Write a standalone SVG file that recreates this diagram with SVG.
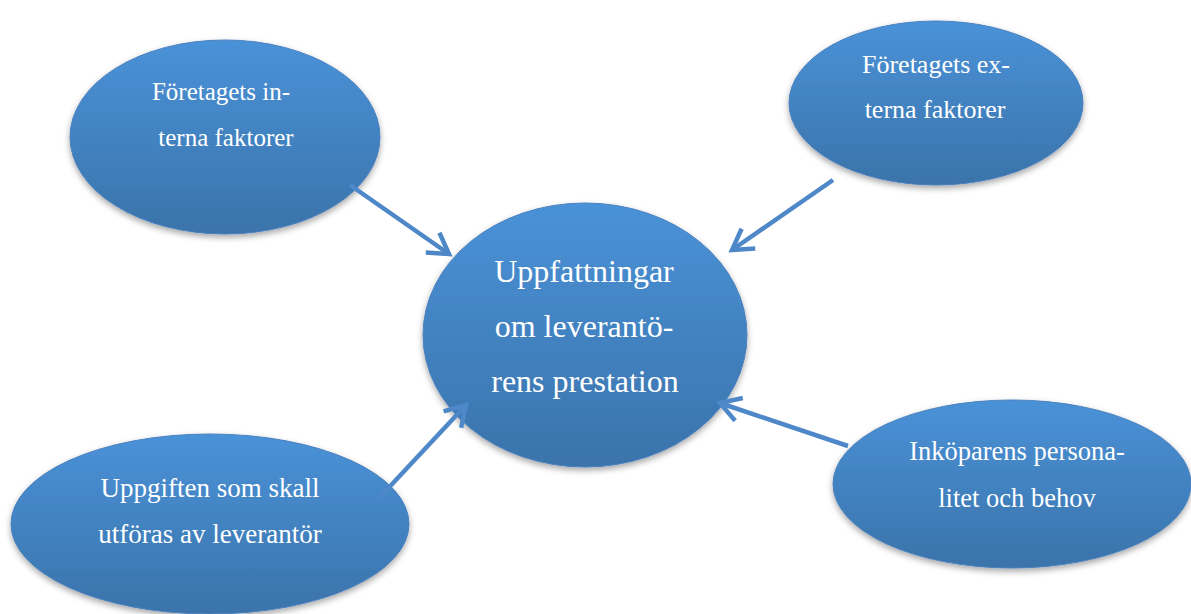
<svg xmlns="http://www.w3.org/2000/svg" width="1191" height="614" viewBox="0 0 1191 614">
<style>
.node{fill:url(#g);stroke:#4a80bf;stroke-width:1;filter:url(#sh)}
.t{font-family:"Liberation Serif","Times New Roman",serif;fill:#fff;text-anchor:middle}
.s{font-size:25px}
.b{font-size:32px}
.c{stroke:#4f88c8;stroke-width:4.5;fill:none;stroke-linecap:butt}
</style>
<defs>
<linearGradient id="g" x1="0" y1="0" x2="0" y2="1">
<stop offset="0" stop-color="#4a92d8"/>
<stop offset="1" stop-color="#3a73aa"/>
</linearGradient>
<filter id="sh" x="-10%" y="-10%" width="120%" height="130%">
<feDropShadow dx="0" dy="3" stdDeviation="3" flood-color="#000" flood-opacity="0.35"/>
</filter>
<marker id="ah" markerUnits="userSpaceOnUse" viewBox="-30 -20 40 40" refX="0" refY="0" markerWidth="40" markerHeight="40" orient="auto">
<path d="M -20,-12 L 0,0 L -20,12" fill="none" stroke="#4f88c8" stroke-width="4.5" stroke-linejoin="miter"/>
</marker>
</defs>
<rect width="1191" height="614" fill="#fff"/>
<g id="internal">
<ellipse class="node" cx="225" cy="137" rx="155" ry="97"/>
<text class="t s" x="221" y="100">Företagets in-</text>
<text class="t s" x="226" y="146">terna faktorer</text>
</g>
<g id="external">
<ellipse class="node" cx="936" cy="103" rx="147" ry="82"/>
<text class="t" style="font-size:26px" x="936" y="73">Företagets ex-</text>
<text class="t" style="font-size:26px" x="935" y="118">terna faktorer</text>
</g>
<g id="center">
<ellipse class="node" cx="585" cy="335" rx="162" ry="132"/>
<text class="t b" x="584" y="282">Uppfattningar</text>
<text class="t b" x="584" y="337">om leverantö-</text>
<text class="t b" x="585" y="392">rens prestation</text>
</g>
<g id="task">
<ellipse class="node" cx="210" cy="524" rx="199" ry="90"/>
<text class="t" style="font-size:27px" x="210" y="497">Uppgiften som skall</text>
<text class="t" style="font-size:27px" x="210" y="543">utföras av leverantör</text>
</g>
<g id="buyer">
<ellipse class="node" cx="1012" cy="484" rx="179" ry="84"/>
<text class="t" style="font-size:26.5px" x="1017" y="460">Inköparens persona-</text>
<text class="t" style="font-size:26.5px" x="1017" y="507">litet och behov</text>
</g>
<g id="connectors">
<line class="c" x1="350" y1="185" x2="449" y2="254" marker-end="url(#ah)"/>
<line class="c" x1="833" y1="180" x2="732" y2="250" marker-end="url(#ah)"/>
<line class="c" x1="380" y1="497" x2="466" y2="405" marker-end="url(#ah)"/>
<line class="c" x1="848" y1="446" x2="720" y2="403" marker-end="url(#ah)"/>
</g>
</svg>
